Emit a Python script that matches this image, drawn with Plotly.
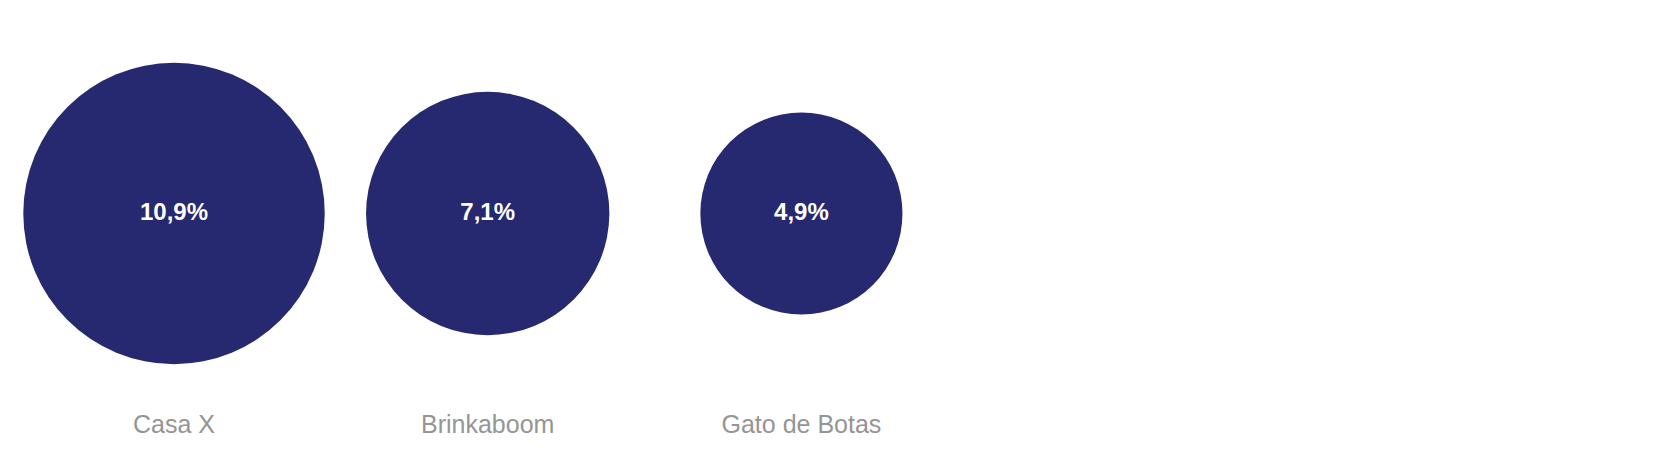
import plotly.graph_objects as go

categories = ["Casa X", "Brinkaboom", "Gato de Botas"]
values = [10.9, 7.1, 4.9]
value_labels = ["10,9%", "7,1%", "4,9%"]

x_pos = list(range(len(categories)))

fig = go.Figure()
fig.add_trace(go.Scatter(
    x=x_pos,
    y=[0] * len(values),
    mode="markers+text",
    marker=dict(size=values, sizemode="area", sizeref=0.0002399,
                color="#262870", opacity=1, line=dict(width=0)),
    text=value_labels,
    textposition="middle center",
    textfont=dict(family="Liberation Sans, Arial", size=24, color="white", weight="bold"),
    hoverinfo="skip",
    cliponaxis=False,
))
fig.add_trace(go.Scatter(
    x=x_pos,
    y=[-1] * len(categories),
    mode="text",
    text=categories,
    textposition="middle center",
    textfont=dict(family="Liberation Sans, Arial", size=25, color="#959595"),
    hoverinfo="skip",
    cliponaxis=False,
))

fig.update_layout(
    width=1661, height=454,
    margin=dict(l=0, r=0, t=0, b=0),
    paper_bgcolor="white", plot_bgcolor="white",
    showlegend=False,
    xaxis=dict(range=[-0.5292, 4.7657], visible=False, fixedrange=True),
    yaxis=dict(range=[-1.1667, 0.9648], visible=False, fixedrange=True),
)

fig.write_html("out.html")
